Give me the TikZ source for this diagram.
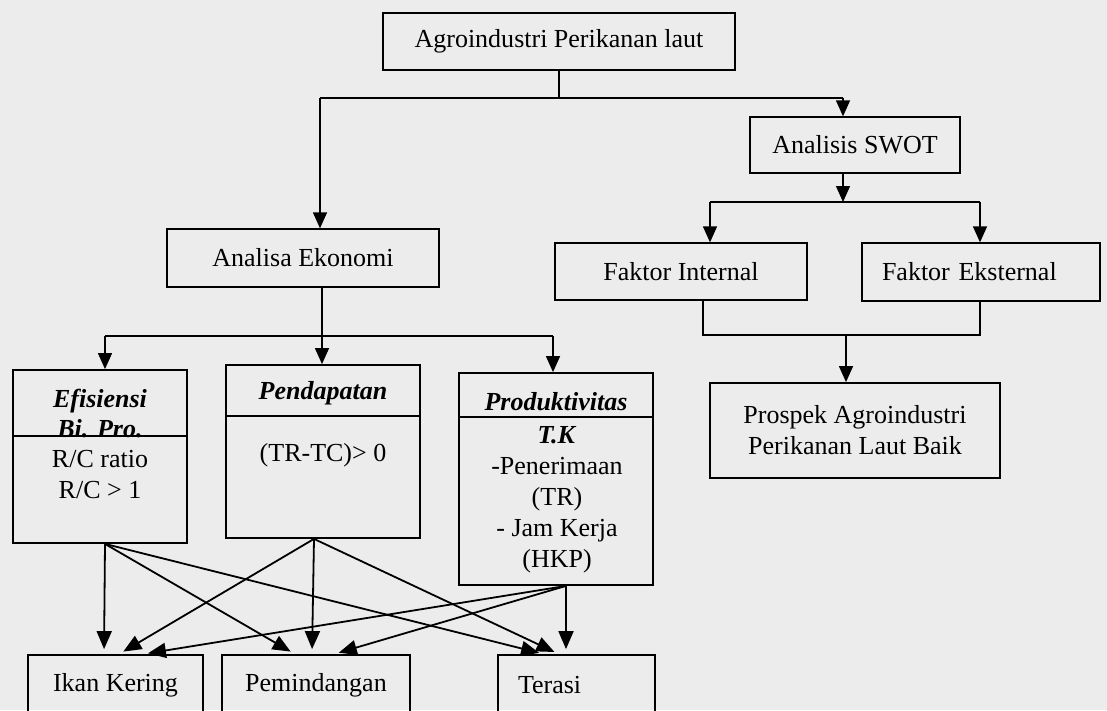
\documentclass[tikz,border=0pt]{standalone}
\usepackage{fontspec}
\setmainfont{Liberation Serif}
\usetikzlibrary{arrows.meta,calc}
\definecolor{bg}{RGB}{236,236,236}
\begin{document}
\begin{tikzpicture}[x=1pt,y=-1pt,
  box/.style={draw, line width=1.3pt, inner sep=0pt, font=\fontsize{26}{31}\selectfont},
  bbox/.style={box, line width=1.8pt},
  ln/.style={line width=1.3pt},
  bln/.style={line width=1.8pt},
  arr/.style={line width=1.3pt, -{Triangle[length=16pt,width=14pt]}},
  barr/.style={line width=1.8pt, shorten >=5pt, -{Triangle[length=18pt,width=15pt]}},
  txt/.style={font=\fontsize{26}{31}\selectfont, align=center, inner sep=0pt},
  hd/.style={txt, font=\fontsize{26}{30}\selectfont\bfseries\itshape}
]
\clip (0,0) rectangle (1107,710);
\fill[bg] (0,0) rectangle (1107,710);

% upper boxes
\node[box, minimum width=352pt, minimum height=57pt] (top) at (559,41.5) {Agroindustri Perikanan laut};
\node[box, minimum width=210pt, minimum height=56pt] (swot) at (855,145) {Analisis SWOT};
\node[box, minimum width=272pt, minimum height=58pt] (eko) at (303,258) {Analisa Ekonomi};
\node[box, minimum width=252pt, minimum height=57pt] (fint) at (681,271.5) {Faktor Internal};
\node[box, minimum width=238pt, minimum height=58pt, text width=198pt, align=left] (fext) at (981,272) {Faktor Eksternal};
\node[bbox, minimum width=290pt, minimum height=95pt, align=center] (prospek) at (855,430.5) {Prospek Agroindustri\\Perikanan Laut Baik};

% category boxes
\node[bbox, minimum width=174pt, minimum height=173pt] (efi) at (100,456.5) {};
\node[bbox, minimum width=194pt, minimum height=173pt] (pend) at (323,451.5) {};
\node[bbox, minimum width=194pt, minimum height=212pt] (prod) at (556,479) {};
\draw[bln] ($(efi.north west)+(0,67)$) -- ($(efi.north east)+(0,67)$);
\draw[bln] ($(pend.north west)+(0,52)$) -- ($(pend.north east)+(0,52)$);
\draw[bln] ($(prod.north west)+(0,45)$) -- ($(prod.north east)+(0,45)$);

\node[hd] (efiH) at (100,414) {Efisiensi\\Bi. Pro.};
\node[txt] (efiB) at (100,475) {R/C ratio\\R/C > 1};
\node[hd] (pendH) at (323,393) {Pendapatan};
\node[txt] (pendB) at (323,455) {(TR-TC)> 0};
\node[hd] (prodH) at (556,402) {Produktivitas};
\node[txt] (prodB) at (557,500) {\textbf{\textit{T.K}}\\-Penerimaan\\(TR)\\- Jam Kerja\\(HKP)};

% bottom boxes
\node[bbox, minimum width=175pt, minimum height=60pt] (ikan) at (115.5,685) {Ikan Kering};
\node[bbox, minimum width=188pt, minimum height=60pt] (pemi) at (316,685) {Pemindangan};
\node[bbox, minimum width=157pt, minimum height=60pt, text width=117pt, align=left] (terasi) at (576.5,685) {Terasi};

% top tree
\coordinate (j1) at (320,98);
\coordinate (j2) at (843,98);
\draw[ln] (top.south) -- (top.south |- j1);
\draw[ln] (j1) -- (j2);
\draw[arr] (j1) -- (j1 |- eko.north);
\draw[arr] (j2) -- (j2 |- swot.north);

\coordinate (j3) at (843,202);
\coordinate (j3l) at (710,202);
\coordinate (j3r) at (980,202);
\draw[arr] (j3 |- swot.south) -- (j3);
\draw[ln] (j3l) -- (j3r);
\draw[arr] (j3l) -- (j3l |- fint.north);
\draw[arr] (j3r) -- (j3r |- fext.north);

\coordinate (j4l) at (703,335);
\coordinate (j4r) at (980,335);
\coordinate (j4) at (846,335);
\draw[ln] (j4l |- fint.south) -- (j4l) -- (j4r) -- (j4r |- fext.south);
\draw[arr] (j4) -- (j4 |- prospek.north);

\coordinate (j5) at (322,336);
\coordinate (j5l) at (105,336);
\coordinate (j5r) at (553,336);
\draw[ln] (j5 |- eko.south) -- (j5);
\draw[bln] (j5l) -- (j5r);
\draw[arr] (j5l) -- (j5l |- efi.north);
\draw[arr] (j5) -- (j5 |- pend.north);
\draw[arr] (j5r) -- (j5r |- prod.north);

% bottom arrows
\coordinate (se) at ([xshift=5pt]efi.south);
\coordinate (sp) at ([xshift=-9pt]pend.south);
\coordinate (sr) at ([xshift=10pt]prod.south);
\draw[barr] (se) -- ([xshift=-11.5pt]ikan.north);
\draw[barr] (se) -- ([xshift=-21pt]pemi.north);
\draw[barr] (se) -- ([xshift=-32.5pt]terasi.north);
\draw[barr] (sp) -- ([xshift=3.5pt]ikan.north);
\draw[barr] (sp) -- ([xshift=-4pt]pemi.north);
\draw[barr] (sp) -- ([xshift=-17.5pt]terasi.north);
\draw[barr] (sr) -- ([xshift=27.5pt]ikan.north);
\draw[barr] (sr) -- ([xshift=18pt]pemi.north);
\draw[barr] (sr) -- ([xshift=-10.5pt]terasi.north);
\end{tikzpicture}
\end{document}
